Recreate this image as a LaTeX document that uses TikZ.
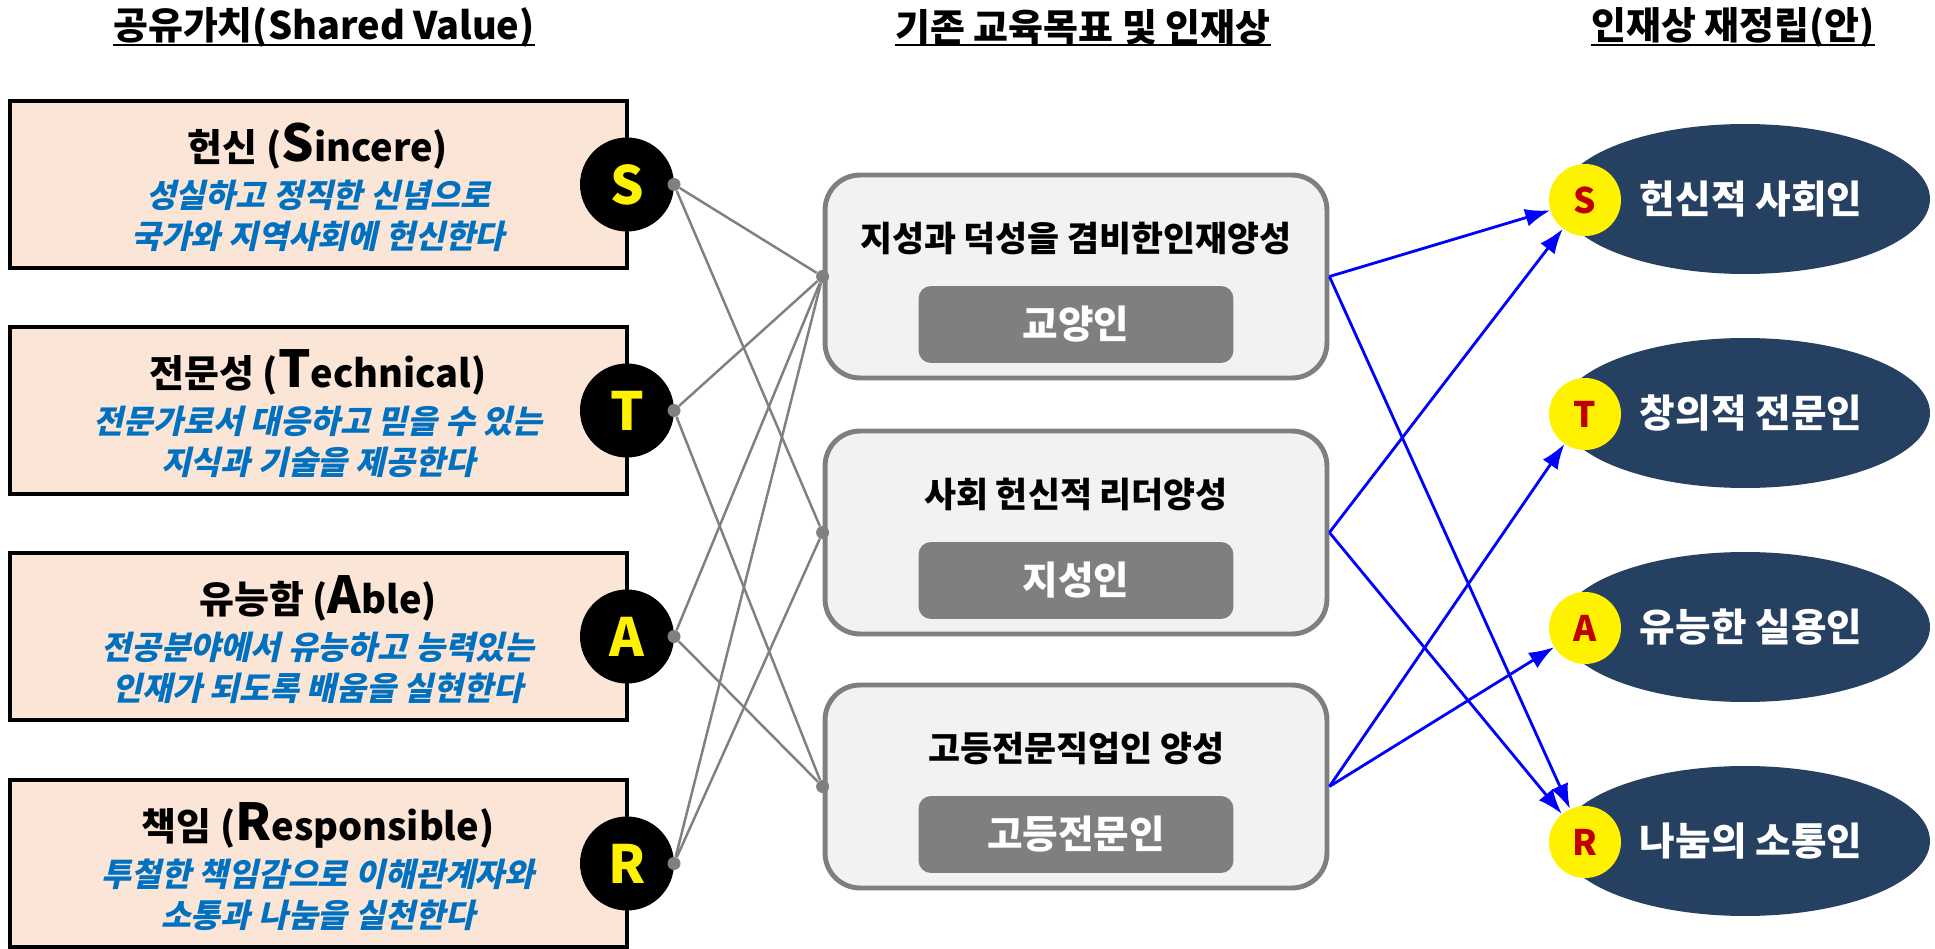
\documentclass[tikz,border=0pt]{standalone}
\usepackage{fontspec}
\setmainfont{Noto Sans CJK KR}
\newfontfamily\slantfont{Noto Sans CJK KR}[FakeSlant=0.22]
\usetikzlibrary{arrows.meta,shapes.geometric}
\definecolor{peach}{HTML}{FBE5D6}
\definecolor{midfill}{HTML}{F2F2F2}
\definecolor{midgray}{HTML}{7F7F7F}
\definecolor{navy}{HTML}{264061}
\definecolor{descblue}{HTML}{0070C0}
\definecolor{darkred}{HTML}{C00000}
\definecolor{linegray}{HTML}{808080}
\begin{document}
\begin{tikzpicture}[x=0.02cm,y=-0.02cm,
  titletext/.style={font=\fontsize{21.6}{26}\selectfont\bfseries, inner sep=0pt},
  underl/.style={line width=1.4pt},
  valuebox/.style={draw=black, line width=2.2pt, fill=peach, minimum width=12.34cm, minimum height=3.34cm, inner sep=0pt},
  valhead/.style={font=\fontsize{21.6}{26}\selectfont\bfseries, inner sep=0pt},
  valdesc/.style={font=\slantfont\fontsize{18.5}{23.3}\selectfont\bfseries, text=descblue, align=center, inner sep=0pt},
  letterdisc/.style={circle, fill=black, minimum size=1.88cm, inner sep=0pt, text=yellow, font=\fontsize{30}{34}\selectfont\bfseries},
  portdot/.style={circle, fill=linegray, minimum size=0.26cm, inner sep=0pt},
  goalbox/.style={draw=midgray, line width=2.8pt, fill=midfill, rounded corners=0.7cm, minimum width=10.04cm, minimum height=4.06cm, inner sep=0pt},
  goaltitle/.style={font=\fontsize{19.8}{24}\selectfont\bfseries, inner sep=0pt},
  goaltag/.style={fill=midgray, rounded corners=0.25cm, minimum width=6.3cm, minimum height=1.54cm, inner sep=0pt, text=white, font=\fontsize{22}{26}\selectfont\bfseries},
  talent/.style={ellipse, fill=navy, minimum width=7.4cm, minimum height=3cm, inner sep=0pt},
  talenttext/.style={text=white, font=\fontsize{22}{26}\selectfont\bfseries, inner sep=0pt},
  talentdisc/.style={circle, fill=yellow, minimum size=1.44cm, inner sep=0pt, text=darkred, font=\fontsize{20}{24}\selectfont\bfseries},
  link/.style={draw=linegray, line width=1.4pt},
  arrowlink/.style={draw=blue, line width=1.6pt, -{Latex[length=0.5cm,width=0.36cm]}},
]
\useasboundingbox (0,0) rectangle (1935,949);

% titles
\node[titletext] (t1) at (324,27) {공유가치(Shared Value)};
\node[titletext] (t2) at (1083,27) {기존 교육목표 및 인재상};
\node[titletext] (t3) at (1733,27) {인재상 재정립(안)};
\coordinate (ul) at (0,45);
\draw[underl] (t1.west |- ul) -- (t1.east |- ul);
\draw[underl] (t2.west |- ul) -- (t2.east |- ul);
\draw[underl] (t3.west |- ul) -- (t3.east |- ul);

% shared values
\node[valuebox] (v1) at (318.5,184.5) {};
\node[valuebox] (v2) at (318.5,410.5) {};
\node[valuebox] (v3) at (318.5,636.5) {};
\node[valuebox] (v4) at (318.5,863.5) {};

\node[valhead] (v1h) at (318,146) {헌신 ({\fontsize{29}{30}\selectfont S}incere)};
\node[valdesc] (v1d) at (318,216) {성실하고 정직한 신념으로\\국가와 지역사회에 헌신한다};
\node[valhead] (v2h) at (318,372) {전문성 ({\fontsize{29}{30}\selectfont T}echnical)};
\node[valdesc] (v2d) at (318,442) {전문가로서 대응하고 믿을 수 있는\\지식과 기술을 제공한다};
\node[valhead] (v3h) at (318,598) {유능함 ({\fontsize{29}{30}\selectfont A}ble)};
\node[valdesc] (v3d) at (318,668) {전공분야에서 유능하고 능력있는\\인재가 되도록 배움을 실현한다};
\node[valhead] (v4h) at (318,825) {책임 ({\fontsize{29}{30}\selectfont R}esponsible)};
\node[valdesc] (v4d) at (318,895) {투철한 책임감으로 이해관계자와\\소통과 나눔을 실천한다};

\node[letterdisc] (cS) at (627,184.5) {S};
\node[letterdisc] (cT) at (627,410.5) {T};
\node[letterdisc] (cA) at (627,636.5) {A};
\node[letterdisc] (cR) at (627,863.5) {R};

% goals
\node[goalbox] (g1) at (1076,276.5) {};
\node[goalbox] (g2) at (1076,532.5) {};
\node[goalbox] (g3) at (1076,786.5) {};
\node[goaltitle] (g1t) at (1076,238) {지성과 덕성을 겸비한인재양성};
\node[goaltitle] (g2t) at (1076,494) {사회 헌신적 리더양성};
\node[goaltitle] (g3t) at (1076,748) {고등전문직업인 양성};
\node[goaltag] (g1g) at (1076,324.5) {교양인};
\node[goaltag] (g2g) at (1076,580.5) {지성인};
\node[goaltag] (g3g) at (1076,834.5) {고등전문인};

% ports
\node[portdot] (pS) at (674,184.5) {};
\node[portdot] (pT) at (674,410.5) {};
\node[portdot] (pA) at (674,636.5) {};
\node[portdot] (pR) at (674,863.5) {};
\node[portdot] (q1) at (g1.west) {};
\node[portdot] (q2) at (g2.west) {};
\node[portdot] (q3) at (g3.west) {};

\draw[link] (pS) -- (q1);
\draw[link] (pS) -- (q2);
\draw[link] (pT) -- (q1);
\draw[link] (pT) -- (q3);
\draw[link] (pA) -- (q1);
\draw[link] (pA) -- (q3);
\draw[link] (pR) -- (q1);
\draw[link] (pR) -- (q2);

% talents
\node[talent] (e1) at (1745,199) {};
\node[talent] (e2) at (1745,413) {};
\node[talent] (e3) at (1745,627) {};
\node[talent] (e4) at (1745,841) {};
\node[talenttext] (e1t) at (1751,199) {헌신적 사회인};
\node[talenttext] (e2t) at (1751,413) {창의적 전문인};
\node[talenttext] (e3t) at (1751,627) {유능한 실용인};
\node[talenttext] (e4t) at (1751,841) {나눔의 소통인};
\node[talentdisc] (d1) at (1585,200) {S};
\node[talentdisc] (d2) at (1585,414) {T};
\node[talentdisc] (d3) at (1585,628) {A};
\node[talentdisc] (d4) at (1585,842) {R};

\draw[arrowlink] (g1.east) -- (d1);
\draw[arrowlink] (g1.east) -- (d4);
\draw[arrowlink] (g2.east) -- (d1);
\draw[arrowlink] (g2.east) -- (d4);
\draw[arrowlink] (g3.east) -- (d2);
\draw[arrowlink] (g3.east) -- (d3);
\end{tikzpicture}
\end{document}
